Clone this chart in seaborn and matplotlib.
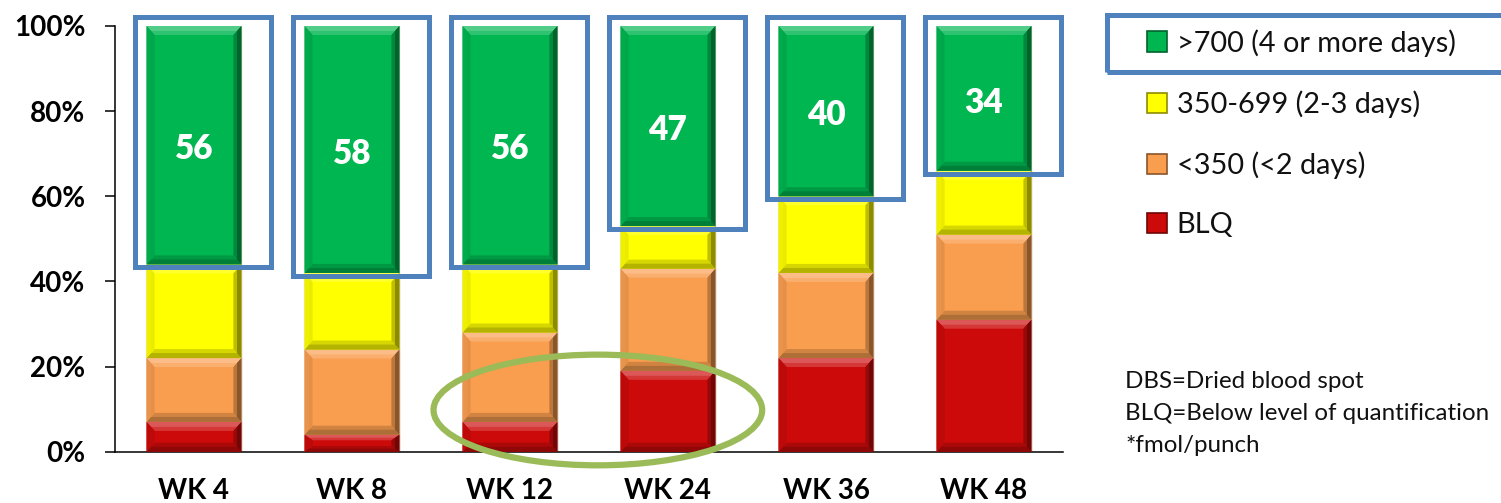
import numpy as np
import pandas as pd
import matplotlib
matplotlib.use("Agg")
import matplotlib.pyplot as plt
import seaborn as sns
from matplotlib.patches import Rectangle, Polygon, Ellipse
from matplotlib.colors import to_rgb

# ---- data -----------------------------------------------------------------
weeks = ["WK 4", "WK 8", "WK 12", "WK 24", "WK 36", "WK 48"]
blq = [7, 4, 7, 19, 22, 31]
below_350 = [15, 20, 21, 24, 20, 20]
mid_350_699 = [22, 18, 16, 10, 18, 15]
above_700 = [56, 58, 56, 47, 40, 34]

series_labels = ["BLQ", "<350 (<2 days)", "350-699 (2-3 days)", ">700 (4 or more days)"]
series_colors = ["#CC0A0A", "#F99D4F", "#FFFF00", "#00B650"]
y_ticks = [0, 20, 40, 60, 80, 100]
notes = ["DBS=Dried blood spot", "BLQ=Below level of quantification", "*fmol/punch"]

series_values = [blq, below_350, mid_350_699, above_700]

# ---- styling --------------------------------------------------------------
sns.set_theme(style="white")
plt.rcParams["font.family"] = ["Lato", "DejaVu Sans"]

W, H = 1501, 503
fig = plt.figure(figsize=(W / 100, H / 100), dpi=100)
ax_l, ax_r, ax_t, ax_b = 115, 1063, 26, 451.7
ax = fig.add_axes([ax_l / W, 1 - ax_b / H, (ax_r - ax_l) / W, (ax_b - ax_t) / H])

BAR_W = 0.6


def mix(color, other, amount):
    c = np.array(to_rgb(color))
    o = np.array(to_rgb(other))
    return tuple(c * (1 - amount) + o * amount)


# stacked bars: draw cumulative totals from the tallest layer down
cum = np.cumsum(np.array(series_values, dtype=float), axis=0)
df = pd.DataFrame({"week": weeks})
layer_patches = [None] * len(series_values)
for k in reversed(range(len(series_values))):
    df["total"] = cum[k]
    n0 = len(ax.patches)
    sns.barplot(data=df, x="week", y="total", order=weeks, color=series_colors[k],
                saturation=1, width=BAR_W, errorbar=None, ax=ax,
                edgecolor="#E6D2BE", linewidth=1.0, zorder=2)
    layer_patches[k] = ax.patches[n0:]

ax.set_xlim(-0.5, len(weeks) - 0.5)
ax.set_ylim(0, 100)

# pixel -> data scale factors for bevel / frame offsets
px_per_x = (ax_r - ax_l) / len(weeks)
px_per_y = (ax_b - ax_t) / 100.0

# bevelled look on every segment (soft two-step bands)
bev_x = 8 / px_per_x
bev_y = 9 / px_per_y


def band(pts, color, z=3):
    ax.add_patch(Polygon(pts, closed=True, fc=color, ec="none", zorder=z))


for k in range(len(series_values)):
    col = series_colors[k]
    for i, p in enumerate(layer_patches[k]):
        l = p.get_x()
        r = l + p.get_width()
        t = p.get_height()
        b = layer_patches[k - 1][i].get_height() if k > 0 else 0.0
        dy = min(bev_y, (t - b) * 0.33)
        dx = bev_x
        for frac, light, dark, side_dark in ((1.0, 0.18, 0.16, 0.25), (0.55, 0.32, 0.30, 0.45)):
            ddx, ddy = dx * frac, dy * frac
            band([(l, t), (r, t), (r - ddx, t - ddy), (l + ddx, t - ddy)], mix(col, "white", light))
            band([(l, b), (r, b), (r - ddx, b + ddy), (l + ddx, b + ddy)], mix(col, "black", dark))
            band([(l, t), (l, b), (l + ddx, b + ddy), (l + ddx, t - ddy)], mix(col, "black", 0.04 * frac + 0.04))
            band([(r, t), (r, b), (r - ddx, b + ddy), (r - ddx, t - ddy)], mix(col, "black", side_dark))

# value labels on the top segment and frames around it
frame_color = "#4F81BD"
top_k = len(series_values) - 1
for i, p in enumerate(layer_patches[top_k]):
    l = p.get_x()
    r = l + p.get_width()
    t = p.get_height()
    b = layer_patches[top_k - 1][i].get_height()
    ax.text((l + r) / 2, (t + b) / 2 - 1.0, f"{above_700[i]}", ha="center", va="center",
            color="white", fontsize=24, fontweight="heavy", zorder=6)
    x0 = l - 12 / px_per_x
    x1 = r + 30 / px_per_x
    y0 = b - 3 / px_per_y
    y1 = t + 9 / px_per_y
    ax.add_patch(Rectangle((x0, y0), x1 - x0, y1 - y0, fill=False, ec=frame_color,
                           lw=3.6, clip_on=False, zorder=7))

# highlight ellipse around the low-level segments of WK 12 / WK 24
ax.add_patch(Ellipse((2.556, 9.8), width=2.08, height=26.0, fill=False,
                     ec="#9BBB59", lw=4.5, clip_on=False, zorder=8))

# axes cosmetics
ax.set_yticks(y_ticks)
ax.set_yticklabels([f"{v}%" for v in y_ticks], fontsize=20, fontweight="bold", color="black")
ax.set_xticks(range(len(weeks)))
ax.set_xticklabels(weeks, fontsize=20, fontweight="bold", color="black")
ax.tick_params(axis="y", left=True, length=7.2, width=1.1, direction="out", pad=14, color="black")
ax.tick_params(axis="x", bottom=False, length=0, pad=19)
ax.set_xlabel("")
ax.set_ylabel("")
for s in ("top", "right"):
    ax.spines[s].set_visible(False)
for s in ("left", "bottom"):
    ax.spines[s].set_color("black")
    ax.spines[s].set_linewidth(1.1)
ax.set_facecolor("white")

# legend (top series first)
handles = [Rectangle((0, 0), 1, 1, fc=series_colors[k], ec=mix(series_colors[k], "black", 0.45), lw=1.2)
           for k in reversed(range(len(series_values)))]
labels = [series_labels[k] for k in reversed(range(len(series_values)))]
leg = fig.legend(handles, labels, loc="upper left",
                 bbox_to_anchor=(1147 / W, 1 - 29 / H), bbox_transform=fig.transFigure,
                 frameon=False, fontsize=20.8, handlelength=0.7, handleheight=0.7,
                 handletextpad=0.33, labelspacing=1.16, borderaxespad=0, borderpad=0)
for txt in leg.get_texts():
    txt.set_color("#111111")

# frame around the first legend entry
fig.add_artist(Rectangle((1106.7 / W, 1 - 72.3 / H), (1520 - 1106.7) / W, (72.3 - 14.5) / H,
                         transform=fig.transFigure, fill=False, ec=frame_color, lw=3.6))

# footnotes
for j, line in enumerate(notes):
    fig.text(1125 / W, 1 - (381.7 + 31.7 * j) / H, line, ha="left", va="center",
             fontsize=17.4, color="#111111")

fig.savefig("out.png", dpi=100)
